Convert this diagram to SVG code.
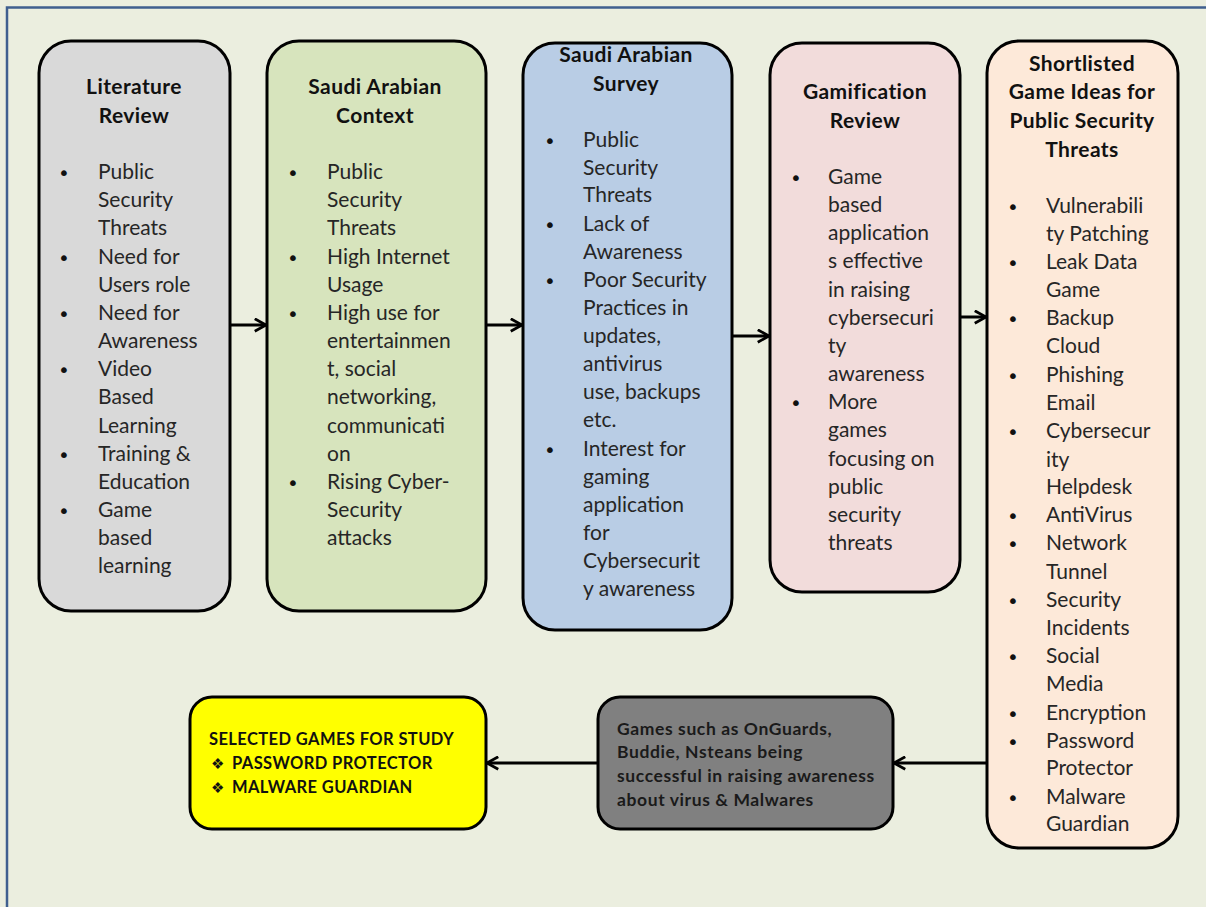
<svg xmlns="http://www.w3.org/2000/svg" width="1206" height="907" viewBox="0 0 1206 907">
  <defs>
    <style>
      .frame { fill: #EBEEDF; }
      .edge { stroke: #3F5F8F; stroke-width: 2.5; fill: none; }
      .box { stroke: #000; stroke-width: 3; }
      .title { font-family: Lato, "Liberation Sans", sans-serif; font-weight: bold; font-size: 21px; letter-spacing: 0.4px; fill: #111; text-anchor: middle; }
      .body { font-family: Lato, "Liberation Sans", sans-serif; font-size: 21px; fill: #262626; }
      .dot { font-family: "DejaVu Sans", sans-serif; font-size: 20px; fill: #111; }
      .note { font-family: Lato, "Liberation Sans", sans-serif; font-weight: bold; font-size: 17.5px; letter-spacing: 0.6px; fill: #1a1a1a; }
      .caps { font-family: Lato, "Liberation Sans", sans-serif; font-weight: bold; font-size: 16.5px; letter-spacing: 0.4px; fill: #111; }
      .star { font-family: "DejaVu Sans", sans-serif; font-size: 15px; fill: #111; }
      .link { stroke: #000; stroke-width: 3; fill: none; marker-end: url(#chev); }
    </style>
    <marker id="chev" viewBox="0 0 12 12" refX="10" refY="6" markerWidth="5" markerHeight="5" orient="auto" markerUnits="strokeWidth">
      <path d="M1,1 L10,6 L1,11" fill="none" stroke="#000" stroke-width="2.2"/>
    </marker>
  </defs>

  <!-- slide background with blue frame on top and left -->
  <rect class="frame" x="0" y="0" width="1206" height="907"/>
  <path class="edge" d="M7,907 L7,7.5 L1206,7.5"/>

  <!-- connectors -->
  <g id="connectors">
    <line class="link" x1="230" y1="325" x2="266" y2="325"/>
    <line class="link" x1="486" y1="325" x2="522" y2="325"/>
    <line class="link" x1="732" y1="336" x2="769" y2="336"/>
    <line class="link" x1="960" y1="317" x2="986" y2="317"/>
    <line class="link" x1="987" y1="763" x2="894" y2="763"/>
    <line class="link" x1="598" y1="763" x2="487" y2="763"/>
  </g>

  <!-- Literature Review -->
  <g id="literature-review">
    <rect class="box" x="39" y="41" width="191" height="570" rx="32" fill="#D9D9D9"/>
    <text class="title" x="134" y="94">Literature</text>
    <text class="title" x="134" y="123">Review</text>
    <g class="dot"><text x="58" y="180">•</text><text x="58" y="265">•</text><text x="58" y="321">•</text><text x="58" y="377">•</text><text x="58" y="462">•</text><text x="58" y="518">•</text></g>
    <g class="body">
      <text x="98" y="179">Public</text><text x="98" y="207">Security</text><text x="98" y="235">Threats</text>
      <text x="98" y="264">Need for</text><text x="98" y="292">Users role</text>
      <text x="98" y="320">Need for</text><text x="98" y="348">Awareness</text>
      <text x="98" y="376">Video</text><text x="98" y="404">Based</text><text x="98" y="433">Learning</text>
      <text x="98" y="461">Training &amp;</text><text x="98" y="489">Education</text>
      <text x="98" y="517">Game</text><text x="98" y="545">based</text><text x="98" y="573">learning</text>
    </g>
  </g>

  <!-- Saudi Arabian Context -->
  <g id="saudi-context">
    <rect class="box" x="267" y="41" width="219" height="570" rx="32" fill="#D7E4BD"/>
    <text class="title" x="375" y="94">Saudi Arabian</text>
    <text class="title" x="375" y="123">Context</text>
    <g class="dot"><text x="287" y="180">•</text><text x="287" y="265">•</text><text x="287" y="321">•</text><text x="287" y="490">•</text></g>
    <g class="body">
      <text x="327" y="179">Public</text><text x="327" y="207">Security</text><text x="327" y="235">Threats</text>
      <text x="327" y="264">High Internet</text><text x="327" y="292">Usage</text>
      <text x="327" y="320">High use for</text><text x="327" y="348">entertainmen</text><text x="327" y="376">t, social</text><text x="327" y="404">networking,</text><text x="327" y="433">communicati</text><text x="327" y="461">on</text>
      <text x="327" y="489">Rising Cyber-</text><text x="327" y="517">Security</text><text x="327" y="545">attacks</text>
    </g>
  </g>

  <!-- Saudi Arabian Survey -->
  <g id="saudi-survey">
    <rect class="box" x="523" y="43" width="209" height="587" rx="32" fill="#B9CDE5"/>
    <text class="title" x="626" y="62">Saudi Arabian</text>
    <text class="title" x="626" y="91">Survey</text>
    <g class="dot"><text x="544" y="148">•</text><text x="544" y="232">•</text><text x="544" y="288">•</text><text x="544" y="457">•</text></g>
    <g class="body">
      <text x="583" y="147">Public</text><text x="583" y="175">Security</text><text x="583" y="202">Threats</text>
      <text x="583" y="231">Lack of</text><text x="583" y="259">Awareness</text>
      <text x="583" y="287">Poor Security</text><text x="583" y="315">Practices in</text><text x="583" y="343">updates,</text><text x="583" y="371">antivirus</text><text x="583" y="399">use, backups</text><text x="583" y="427">etc.</text>
      <text x="583" y="456">Interest for</text><text x="583" y="484">gaming</text><text x="583" y="512">application</text><text x="583" y="540">for</text><text x="583" y="568">Cybersecurit</text><text x="583" y="596">y awareness</text>
    </g>
  </g>

  <!-- Gamification Review -->
  <g id="gamification-review">
    <rect class="box" x="770" y="43" width="190" height="549" rx="32" fill="#F2DCDB"/>
    <text class="title" x="865" y="99">Gamification</text>
    <text class="title" x="865" y="128">Review</text>
    <g class="dot"><text x="790" y="185">•</text><text x="790" y="410">•</text></g>
    <g class="body">
      <text x="828" y="184">Game</text><text x="828" y="212">based</text><text x="828" y="240">application</text><text x="828" y="268">s effective</text><text x="828" y="297">in raising</text><text x="828" y="325">cybersecuri</text><text x="828" y="353">ty</text><text x="828" y="381">awareness</text>
      <text x="828" y="409">More</text><text x="828" y="437">games</text><text x="828" y="466">focusing on</text><text x="828" y="494">public</text><text x="828" y="522">security</text><text x="828" y="550">threats</text>
    </g>
  </g>

  <!-- Shortlisted Game Ideas -->
  <g id="shortlisted-ideas">
    <rect class="box" x="987" y="41" width="191" height="807" rx="32" fill="#FDE9D9"/>
    <text class="title" x="1082" y="71">Shortlisted</text>
    <text class="title" x="1082" y="99">Game Ideas for</text>
    <text class="title" x="1082" y="128">Public Security</text>
    <text class="title" x="1082" y="157">Threats</text>
    <g class="dot">
      <text x="1007" y="214">•</text><text x="1007" y="270">•</text><text x="1007" y="326">•</text><text x="1007" y="383">•</text><text x="1007" y="439">•</text><text x="1007" y="523">•</text><text x="1007" y="551">•</text><text x="1007" y="608">•</text><text x="1007" y="664">•</text><text x="1007" y="721">•</text><text x="1007" y="749">•</text><text x="1007" y="805">•</text>
    </g>
    <g class="body">
      <text x="1046" y="213">Vulnerabili</text><text x="1046" y="241">ty Patching</text>
      <text x="1046" y="269">Leak Data</text><text x="1046" y="297">Game</text>
      <text x="1046" y="325">Backup</text><text x="1046" y="353">Cloud</text>
      <text x="1046" y="382">Phishing</text><text x="1046" y="410">Email</text>
      <text x="1046" y="438">Cybersecur</text><text x="1046" y="467">ity</text><text x="1046" y="494">Helpdesk</text>
      <text x="1046" y="522">AntiVirus</text>
      <text x="1046" y="550">Network</text><text x="1046" y="579">Tunnel</text>
      <text x="1046" y="607">Security</text><text x="1046" y="635">Incidents</text>
      <text x="1046" y="663">Social</text><text x="1046" y="691">Media</text>
      <text x="1046" y="720">Encryption</text>
      <text x="1046" y="748">Password</text><text x="1046" y="775">Protector</text>
      <text x="1046" y="804">Malware</text><text x="1046" y="831">Guardian</text>
    </g>
  </g>

  <!-- Evidence from existing games -->
  <g id="existing-games">
    <rect class="box" x="598" y="697" width="295" height="132" rx="22" fill="#808080"/>
    <g class="note">
      <text x="617" y="735">Games such as OnGuards,</text>
      <text x="617" y="758">Buddie, Nsteans being</text>
      <text x="617" y="782">successful in raising awareness</text>
      <text x="617" y="806">about virus &amp; Malwares</text>
    </g>
  </g>

  <!-- Selected games -->
  <g id="selected-games">
    <rect class="box" x="190" y="697" width="296" height="132" rx="22" fill="#FFFF00"/>
    <text class="caps" x="209" y="745">SELECTED GAMES FOR STUDY</text>
    <text class="star" x="211" y="769">❖</text>
    <text class="caps" x="232" y="769">PASSWORD PROTECTOR</text>
    <text class="star" x="211" y="793">❖</text>
    <text class="caps" x="232" y="793">MALWARE GUARDIAN</text>
  </g>
</svg>
